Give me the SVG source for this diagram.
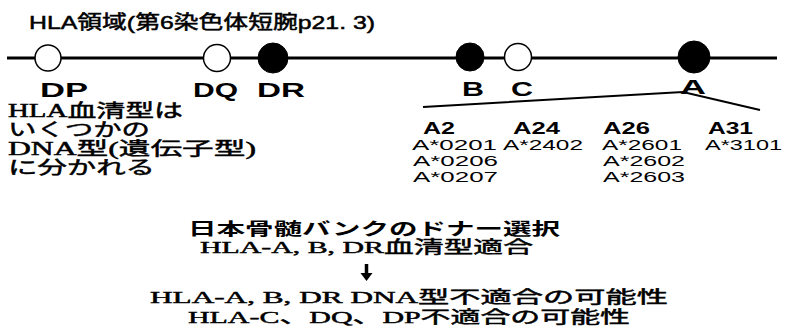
<svg xmlns="http://www.w3.org/2000/svg" width="789" height="334" viewBox="0 0 789 334">
<style>
.g{font-family:"Liberation Sans","Noto Sans CJK JP",sans-serif;font-weight:bold;fill:#000}
.t{font-family:"Liberation Sans","Noto Sans CJK JP",sans-serif;fill:#000;stroke:#000;stroke-width:0.5}
.m{font-family:"Liberation Serif","Noto Sans CJK JP",serif;fill:#000;stroke:#000;stroke-width:0.45}
.n{font-family:"Liberation Sans","Noto Sans CJK JP",sans-serif;fill:#000}
.ln{stroke:#000;fill:none}
.open{fill:#fff;stroke:#000;stroke-width:1.5}
.full{fill:#000;stroke:#000;stroke-width:1}
</style>
<rect width="789" height="334" fill="#fff"/>
<text class="t" x="29" y="29" font-size="19" textLength="346" lengthAdjust="spacingAndGlyphs">HLA領域(第6染色体短腕p21. 3)</text>
<g id="connectors">
<line class="ln" x1="7" y1="58" x2="777" y2="58" stroke-width="3"/>
<polyline class="ln" points="423,107 683,92 760,110" stroke-width="2"/>
<line class="ln" x1="366.5" y1="264" x2="366.5" y2="275" stroke-width="3.5"/>
<polygon points="360.5,273 372.5,273 366.5,281" fill="#000"/>
</g>
<g id="DP"><circle class="open" cx="48" cy="58" r="13"/><text class="g" x="40" y="97" font-size="20" textLength="48" lengthAdjust="spacingAndGlyphs">DP</text></g>
<g id="DQ"><circle class="open" cx="217" cy="58" r="13.5"/><text class="g" x="193" y="97" font-size="20" textLength="45" lengthAdjust="spacingAndGlyphs">DQ</text></g>
<g id="DR"><circle class="full" cx="273" cy="58" r="15"/><text class="g" x="257" y="97" font-size="20" textLength="48" lengthAdjust="spacingAndGlyphs">DR</text></g>
<g id="B"><circle class="full" cx="470" cy="57" r="14"/><text class="g" x="462" y="96" font-size="20" textLength="22" lengthAdjust="spacingAndGlyphs">B</text></g>
<g id="C"><circle class="open" cx="518" cy="57" r="13.5"/><text class="g" x="511" y="96" font-size="20" textLength="22" lengthAdjust="spacingAndGlyphs">C</text></g>
<g id="A"><circle class="full" cx="694" cy="57" r="16"/><text class="g" x="680" y="94" font-size="20" textLength="26" lengthAdjust="spacingAndGlyphs">A</text></g>
<g id="serology-note">
<text class="m" x="8" y="117" font-size="18" textLength="175" lengthAdjust="spacingAndGlyphs">HLA血清型は</text>
<text class="m" x="8" y="136" font-size="18" textLength="142" lengthAdjust="spacingAndGlyphs">いくつかの</text>
<text class="m" x="8" y="155" font-size="18" textLength="248" lengthAdjust="spacingAndGlyphs">DNA型(遺伝子型)</text>
<text class="m" x="8" y="174" font-size="18" textLength="147" lengthAdjust="spacingAndGlyphs">に分かれる</text>
</g>
<g id="A2">
<text class="g" x="423" y="134" font-size="16" textLength="32" lengthAdjust="spacingAndGlyphs">A2</text>
<text class="n" x="412" y="150" font-size="14" textLength="85" lengthAdjust="spacingAndGlyphs">A*0201</text>
<text class="n" x="413" y="166" font-size="14" textLength="85" lengthAdjust="spacingAndGlyphs">A*0206</text>
<text class="n" x="413" y="182" font-size="14" textLength="85" lengthAdjust="spacingAndGlyphs">A*0207</text>
</g>
<g id="A24">
<text class="g" x="513" y="134" font-size="16" textLength="47" lengthAdjust="spacingAndGlyphs">A24</text>
<text class="n" x="503" y="150" font-size="14" textLength="80" lengthAdjust="spacingAndGlyphs">A*2402</text>
</g>
<g id="A26">
<text class="g" x="603" y="134" font-size="16" textLength="47" lengthAdjust="spacingAndGlyphs">A26</text>
<text class="n" x="602" y="150" font-size="14" textLength="80" lengthAdjust="spacingAndGlyphs">A*2601</text>
<text class="n" x="603" y="166" font-size="14" textLength="82" lengthAdjust="spacingAndGlyphs">A*2602</text>
<text class="n" x="603" y="182" font-size="14" textLength="82" lengthAdjust="spacingAndGlyphs">A*2603</text>
</g>
<g id="A31">
<text class="g" x="708" y="134" font-size="16" textLength="45" lengthAdjust="spacingAndGlyphs">A31</text>
<text class="n" x="705" y="150" font-size="14" textLength="77" lengthAdjust="spacingAndGlyphs">A*3101</text>
</g>
<g id="donor-selection">
<text class="g" x="188" y="235" font-size="17" textLength="372" lengthAdjust="spacingAndGlyphs">日本骨髄バンクのドナー選択</text>
<text class="m" x="200" y="253" font-size="17" textLength="333" lengthAdjust="spacingAndGlyphs">HLA-A, B, DR血清型適合</text>
</g>
<g id="mismatch">
<text class="m" x="150" y="303" font-size="17" textLength="518" lengthAdjust="spacingAndGlyphs">HLA-A, B, DR DNA型不適合の可能性</text>
<text class="m" x="188" y="323" font-size="17" textLength="442" lengthAdjust="spacingAndGlyphs">HLA-C、DQ、DP不適合の可能性</text>
</g>
</svg>
